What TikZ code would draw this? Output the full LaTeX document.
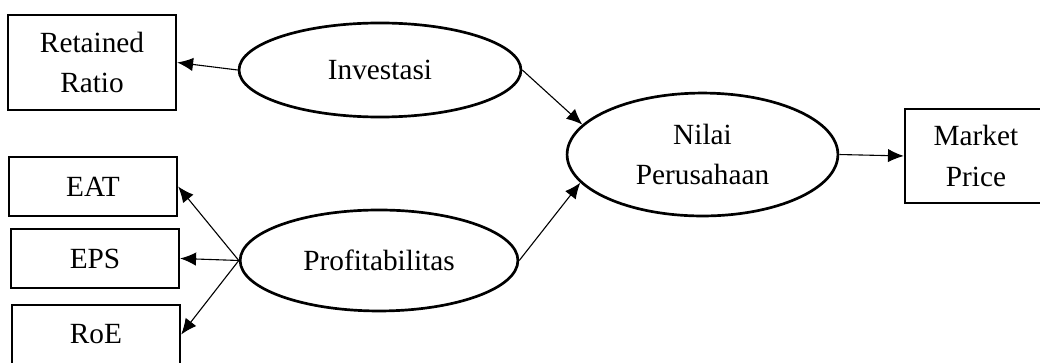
\documentclass[tikz,border=0pt]{standalone}
\usepackage{fontspec}
\setmainfont{Liberation Serif}
\usetikzlibrary{shapes.geometric,arrows.meta}

\begin{document}
\begin{tikzpicture}[
		box/.style={
			draw,
			line width=0.95pt,
			align=center,
			minimum width=2.42cm,
			minimum height=0.85cm,
			inner sep=0pt,
			font=\fontsize{12}{16.5}\selectfont,
			fill=white
		},
		latent/.style={
			draw,
			ellipse,
			line width=1.1pt,
			align=center,
			inner sep=0pt,
			font=\fontsize{12}{16.5}\selectfont,
			fill=white
		},
		line/.style={draw, line width=0.45pt, -{Latex[length=6.5pt,width=5.5pt]}}
		]
		
		% page frame
		\clip (0,0) rectangle (14.976,-5.213);
		
		% Indicators
		\node[box, minimum height=1.37cm] (rr) at (1.325,-0.900) {Retained\\Ratio};
		\node[box] (eat) at (1.339,-2.686) {EAT};
		\node[box] (eps) at (1.368,-3.722) {EPS};
		\node[box] (roe) at (1.382,-4.817) {RoE};
		\node[box, minimum width=2.045cm, minimum height=1.354cm] (mp) at (14.054,-2.246) {Market\\Price};
		
		% Latent variables
		\node[latent, minimum width=4.06cm, minimum height=1.354cm] (inv) at (5.472,-1.008) {Investasi};
		\node[latent, minimum width=3.90cm, minimum height=1.77cm] (nilai) at (10.116,-2.225) {Nilai\\Perusahaan};
		\node[latent, minimum width=4.00cm, minimum height=1.454cm] (prof) at (5.458,-3.751) {Profitabilitas};
		
		% Paths
		\draw[line] (inv.west) -- (rr.east);
		\draw[line] (inv.east) -- (nilai.166);
		\draw[line] (prof.east) -- (nilai.193);
		\draw[line] (prof.west) -- (eat.east);
		\draw[line] (prof.west) -- (eps.east);
		\draw[line] (prof.west) -- (roe.east);
		\draw[line] (nilai.east) -- (mp.west);
		
	\end{tikzpicture}
\end{document}
